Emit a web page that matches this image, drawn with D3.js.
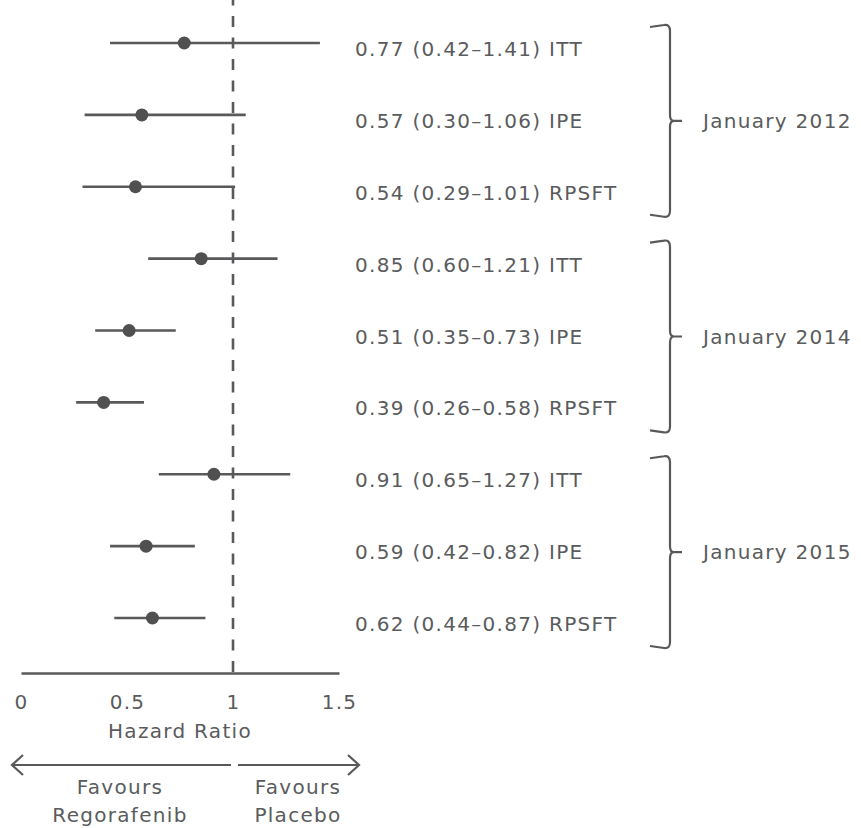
<!DOCTYPE html>
<html>
<head>
<meta charset="utf-8">
<script src="https://cdn.jsdelivr.net/npm/d3@7"></script>
<style>
  body { margin: 0; background: #fff; }
  text { font-family: "DejaVu Sans", sans-serif; fill: #5a5b5d; letter-spacing: 1.3px; }
</style>
</head>
<body>
<div id="chart"></div>
<script>
const groups = ["January 2012", "January 2014", "January 2015"];
const methods = ["ITT", "IPE", "RPSFT"];
const hr = [0.77, 0.57, 0.54, 0.85, 0.51, 0.39, 0.91, 0.59, 0.62];
const lo = [0.42, 0.30, 0.29, 0.60, 0.35, 0.26, 0.65, 0.42, 0.44];
const hi = [1.41, 1.06, 1.01, 1.21, 0.73, 0.58, 1.27, 0.82, 0.87];
const ticks = [0, 0.5, 1, 1.5];

const rows = hr.map((v, i) => ({
  i,
  hr: v,
  lo: lo[i],
  hi: hi[i],
  method: methods[i % 3],
  group: groups[Math.floor(i / 3)]
}));

drawChart();

function drawChart() {
  const width = 861;
  const height = 828;
  const grey = "#58595b";
  const fs = "20px";
  const fmt = d3.format(".2f");

  const svg = d3.select("#chart").append("svg")
    .attr("width", width)
    .attr("height", height);

  const x = d3.scaleLinear().domain([0, 1.5]).range([21, 339]);
  const y = d3.scalePoint().domain(rows.map((d) => d.i)).range([43, 618]);
  const axisY = 673;

  // reference line at HR = 1
  svg.append("line")
    .attr("x1", x(1)).attr("x2", x(1))
    .attr("y1", 0).attr("y2", axisY)
    .attr("stroke", grey)
    .attr("stroke-width", 2.6)
    .attr("stroke-dasharray", "11,10.5")
    .attr("stroke-dashoffset", 5.5);

  // confidence intervals
  svg.selectAll(".ci")
    .data(rows)
    .join("line")
    .attr("class", "ci")
    .attr("x1", (d) => x(d.lo))
    .attr("x2", (d) => x(d.hi))
    .attr("y1", (d) => y(d.i))
    .attr("y2", (d) => y(d.i))
    .attr("stroke", grey)
    .attr("stroke-width", 2.6);

  svg.selectAll(".pt")
    .data(rows)
    .join("circle")
    .attr("class", "pt")
    .attr("cx", (d) => x(d.hr))
    .attr("cy", (d) => y(d.i))
    .attr("r", 6.5)
    .attr("fill", "#505050");

  // row labels
  svg.selectAll(".lab")
    .data(rows)
    .join("text")
    .attr("class", "lab")
    .attr("x", 355)
    .attr("y", (d) => y(d.i) + 6)
    .attr("dominant-baseline", "central")
    .style("font-size", fs)
    .text((d) => `${fmt(d.hr)} (${fmt(d.lo)}\u2013${fmt(d.hi)}) ${d.method}`);

  // braces for each group
  groups.forEach((g, k) => {
    const top = y(k * 3) + 6 - 24;
    const bot = y(k * 3 + 2) + 6 + 24;
    const mid = (top + bot) / 2;
    const bx = 670;
    const p = d3.path();
    p.moveTo(650, top + 2);
    p.lineTo(bx - 6, top);
    p.quadraticCurveTo(bx, top - 1, bx, top + 6);
    p.lineTo(bx, mid - 6);
    p.quadraticCurveTo(bx, mid, bx + 4, mid);
    p.lineTo(bx + 12, mid);
    p.moveTo(bx + 4, mid);
    p.quadraticCurveTo(bx, mid, bx, mid + 6);
    p.lineTo(bx, bot - 6);
    p.quadraticCurveTo(bx, bot + 1, bx - 6, bot);
    p.lineTo(650, bot - 2);
    svg.append("path")
      .attr("d", p.toString())
      .attr("fill", "none")
      .attr("stroke", grey)
      .attr("stroke-width", 2.2);
    svg.append("text")
      .attr("x", 703)
      .attr("y", mid)
      .attr("dominant-baseline", "central")
      .style("font-size", fs)
      .text(g);
  });

  // x axis
  const axis = svg.append("g")
    .attr("transform", `translate(0,${axisY})`)
    .call(d3.axisBottom(x).tickValues(ticks).tickSize(0).tickPadding(0).tickFormat(d3.format("")));
  axis.select(".domain").attr("stroke", grey).attr("stroke-width", 2.5);
  axis.selectAll("text")
    .attr("y", 29)
    .attr("dy", null)
    .attr("dominant-baseline", "central")
    .style("font-size", fs)
    .style("font-family", '"DejaVu Sans", sans-serif')
    .attr("fill", "#5a5b5d");

  svg.append("text")
    .attr("x", (x(0) + x(1.5)) / 2)
    .attr("y", 731)
    .attr("text-anchor", "middle")
    .attr("dominant-baseline", "central")
    .style("font-size", fs)
    .text("Hazard Ratio");

  // favours arrows
  const ay = 765;
  const arrows = svg.append("g")
    .attr("fill", "none")
    .attr("stroke", grey)
    .attr("stroke-width", 2.2);
  arrows.append("path").attr("d", `M${x(1) - 2},${ay}H12M23,${ay - 10}L12,${ay}L23,${ay + 10}`);
  arrows.append("path").attr("d", `M${x(1) + 5},${ay}H359M348,${ay - 10}L359,${ay}L348,${ay + 10}`);

  const fav = [
    { cx: 120, lines: ["Favours", "Regorafenib"] },
    { cx: 298, lines: ["Favours", "Placebo"] }
  ];
  fav.forEach((f) => {
    f.lines.forEach((t, j) => {
      svg.append("text")
        .attr("x", f.cx)
        .attr("y", 787 + j * 28)
        .attr("text-anchor", "middle")
        .attr("dominant-baseline", "central")
        .style("font-size", fs)
        .text(t);
    });
  });
}
</script>
</body>
</html>
